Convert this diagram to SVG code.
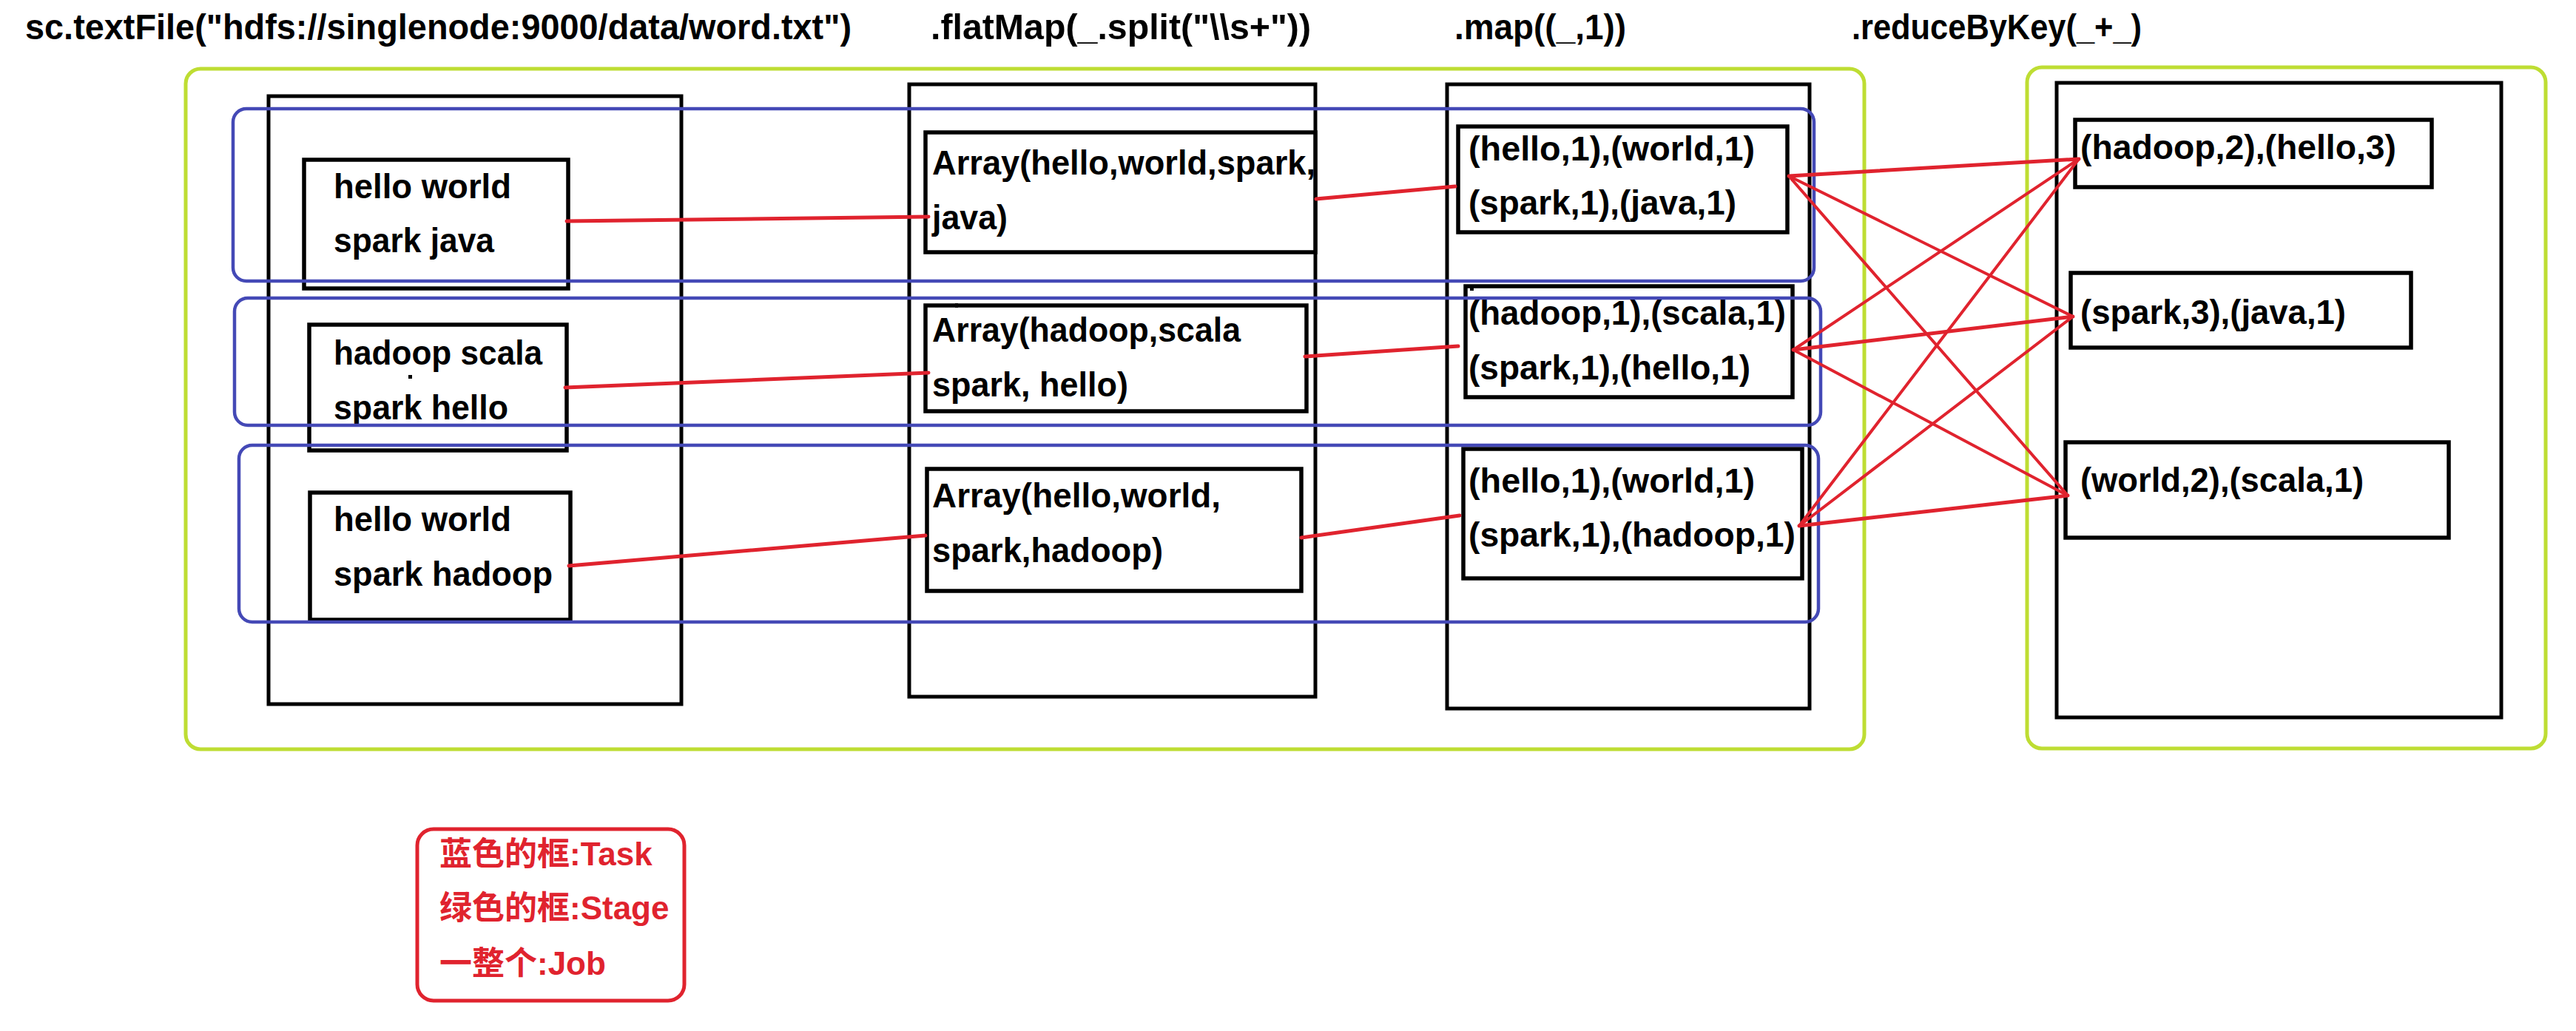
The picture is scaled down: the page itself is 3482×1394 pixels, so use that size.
<svg xmlns="http://www.w3.org/2000/svg" width="3482" height="1394" viewBox="0 0 3482 1394">
<style>
.t{font-family:"Liberation Sans",Arial,sans-serif;font-weight:bold;font-size:47px;fill:#000}
.h{font-family:"Liberation Sans",Arial,sans-serif;font-weight:bold;font-size:48px;fill:#000}
.lg{font-family:"Liberation Sans","Noto Sans CJK SC",sans-serif;font-weight:bold;font-size:44px;fill:#E0232E}
.cj{font-family:"Noto Sans CJK SC",sans-serif}
.box{fill:#fff;stroke:#000;stroke-width:5.5}
.col{fill:none;stroke:#000;stroke-width:5}
.task{fill:none;stroke:#4449B6;stroke-width:4.5}
.stage{fill:none;stroke:#BEDD33;stroke-width:5}
.edge{stroke:#E0232E;stroke-width:5;stroke-linecap:round;fill:none}
.thin{stroke-width:4}
.dot{fill:#000}
</style>
<rect width="3482" height="1394" fill="#fff"/>
<g id="titles">
<text class="h" x="34" y="53" textLength="1117" lengthAdjust="spacingAndGlyphs">sc.textFile("hdfs://singlenode:9000/data/word.txt")</text>
<text class="h" x="1258" y="53" textLength="514" lengthAdjust="spacingAndGlyphs">.flatMap(_.split("\\s+"))</text>
<text class="h" x="1966" y="53" textLength="232" lengthAdjust="spacingAndGlyphs">.map((_,1))</text>
<text class="h" x="2503" y="53" textLength="392" lengthAdjust="spacingAndGlyphs">.reduceByKey(_+_)</text>
</g>
<g id="stage1"><rect class="stage" x="251" y="93" width="2269" height="920" rx="20"/></g>
<g id="stage2"><rect class="stage" x="2740" y="91" width="701" height="921" rx="20"/></g>
<g id="col-textFile"><rect class="col" x="363" y="130" width="558" height="822"/></g>
<g id="col-flatMap"><rect class="col" x="1229" y="114" width="549" height="828"/></g>
<g id="col-map"><rect class="col" x="1956" y="114" width="490" height="844"/></g>
<g id="col-reduce"><rect class="col" x="2780" y="112" width="601" height="858"/></g>
<g id="box-t1"><rect class="box" x="411" y="216" width="357" height="174"/>
<text class="t" x="451" y="268" textLength="240" lengthAdjust="spacingAndGlyphs">hello world</text>
<text class="t" x="451" y="341" textLength="217" lengthAdjust="spacingAndGlyphs">spark java</text></g>
<g id="box-t2"><rect class="box" x="418" y="439" width="348" height="170"/>
<text class="t" x="451" y="493" textLength="282" lengthAdjust="spacingAndGlyphs">hadoop scala</text>
<text class="t" x="451" y="567" textLength="236" lengthAdjust="spacingAndGlyphs">spark hello</text>
<rect class="dot" x="552" y="507" width="5" height="5"/></g>
<g id="box-t3"><rect class="box" x="419" y="666" width="352" height="172"/>
<text class="t" x="451" y="718" textLength="240" lengthAdjust="spacingAndGlyphs">hello world</text>
<text class="t" x="451" y="792" textLength="296" lengthAdjust="spacingAndGlyphs">spark hadoop</text></g>
<g id="box-f1"><rect class="box" x="1251" y="179" width="527" height="162"/>
<text class="t" x="1260" y="236" textLength="518" lengthAdjust="spacingAndGlyphs">Array(hello,world,spark,</text>
<text class="t" x="1260" y="310" textLength="102" lengthAdjust="spacingAndGlyphs">java)</text></g>
<g id="box-f2"><rect class="box" x="1251" y="413" width="515" height="143"/>
<text class="t" x="1260" y="462" textLength="417" lengthAdjust="spacingAndGlyphs">Array(hadoop,scala</text>
<text class="t" x="1260" y="536" textLength="265" lengthAdjust="spacingAndGlyphs">spark, hello)</text>
<rect class="dot" x="1291" y="410" width="4" height="6"/></g>
<g id="box-f3"><rect class="box" x="1253" y="634" width="506" height="165"/>
<text class="t" x="1260" y="686" textLength="390" lengthAdjust="spacingAndGlyphs">Array(hello,world,</text>
<text class="t" x="1260" y="760" textLength="312" lengthAdjust="spacingAndGlyphs">spark,hadoop)</text></g>
<g id="box-m1"><rect class="box" x="1971" y="171" width="445" height="143"/>
<text class="t" x="1985" y="217" textLength="387" lengthAdjust="spacingAndGlyphs">(hello,1),(world,1)</text>
<text class="t" x="1985" y="290" textLength="362" lengthAdjust="spacingAndGlyphs">(spark,1),(java,1)</text></g>
<g id="box-m2"><rect class="box" x="1981" y="387" width="442" height="150"/>
<text class="t" x="1985" y="439" textLength="429" lengthAdjust="spacingAndGlyphs">(hadoop,1),(scala,1)</text>
<text class="t" x="1985" y="513" textLength="381" lengthAdjust="spacingAndGlyphs">(spark,1),(hello,1)</text>
<rect class="dot" x="1987" y="386" width="5" height="7"/></g>
<g id="box-m3"><rect class="box" x="1978" y="607" width="458" height="175"/>
<text class="t" x="1985" y="666" textLength="387" lengthAdjust="spacingAndGlyphs">(hello,1),(world,1)</text>
<text class="t" x="1985" y="739" textLength="442" lengthAdjust="spacingAndGlyphs">(spark,1),(hadoop,1)</text></g>
<g id="box-r1"><rect class="box" x="2805" y="162" width="482" height="91"/>
<text class="t" x="2812" y="215" textLength="427" lengthAdjust="spacingAndGlyphs">(hadoop,2),(hello,3)</text></g>
<g id="box-r2"><rect class="box" x="2799" y="369" width="460" height="101"/>
<text class="t" x="2812" y="438" textLength="359" lengthAdjust="spacingAndGlyphs">(spark,3),(java,1)</text></g>
<g id="box-r3"><rect class="box" x="2792" y="598" width="518" height="129"/>
<text class="t" x="2812" y="665" textLength="383" lengthAdjust="spacingAndGlyphs">(world,2),(scala,1)</text></g>
<g id="task1"><rect class="task" x="315" y="147" width="2137" height="233" rx="18"/></g>
<g id="task2"><rect class="task" x="317" y="403" width="2144" height="172" rx="18"/></g>
<g id="task3"><rect class="task" x="323" y="602" width="2135" height="239" rx="18"/></g>
<g id="connectors">
<line class="edge" x1="766" y1="299" x2="1255" y2="293"/>
<line class="edge" x1="764" y1="524" x2="1255" y2="504"/>
<line class="edge" x1="769" y1="765" x2="1251" y2="724"/>
<line class="edge" x1="1779" y1="269" x2="1967" y2="252"/>
<line class="edge" x1="1764" y1="482" x2="1971" y2="468"/>
<line class="edge" x1="1759" y1="727" x2="1973" y2="697"/>
<line class="edge" x1="2418" y1="238" x2="2810" y2="215"/>
<line class="edge thin" x1="2418" y1="238" x2="2802" y2="428"/>
<line class="edge thin" x1="2418" y1="238" x2="2795" y2="670"/>
<line class="edge thin" x1="2424" y1="473" x2="2810" y2="215"/>
<line class="edge" x1="2424" y1="473" x2="2802" y2="428"/>
<line class="edge thin" x1="2424" y1="473" x2="2795" y2="670"/>
<line class="edge thin" x1="2432" y1="711" x2="2810" y2="215"/>
<line class="edge thin" x1="2432" y1="711" x2="2802" y2="428"/>
<line class="edge" x1="2432" y1="711" x2="2795" y2="670"/>
</g>
<g id="legend">
<rect x="564" y="1121" width="361" height="232" rx="22" fill="none" stroke="#E0232E" stroke-width="5"/>
<text class="lg" x="594" y="1170"><tspan class="cj">蓝色的框</tspan>:Task</text>
<text class="lg" x="594" y="1243"><tspan class="cj">绿色的框</tspan>:Stage</text>
<text class="lg" x="594" y="1318"><tspan class="cj">一整个</tspan>:Job</text>
</g>
</svg>
